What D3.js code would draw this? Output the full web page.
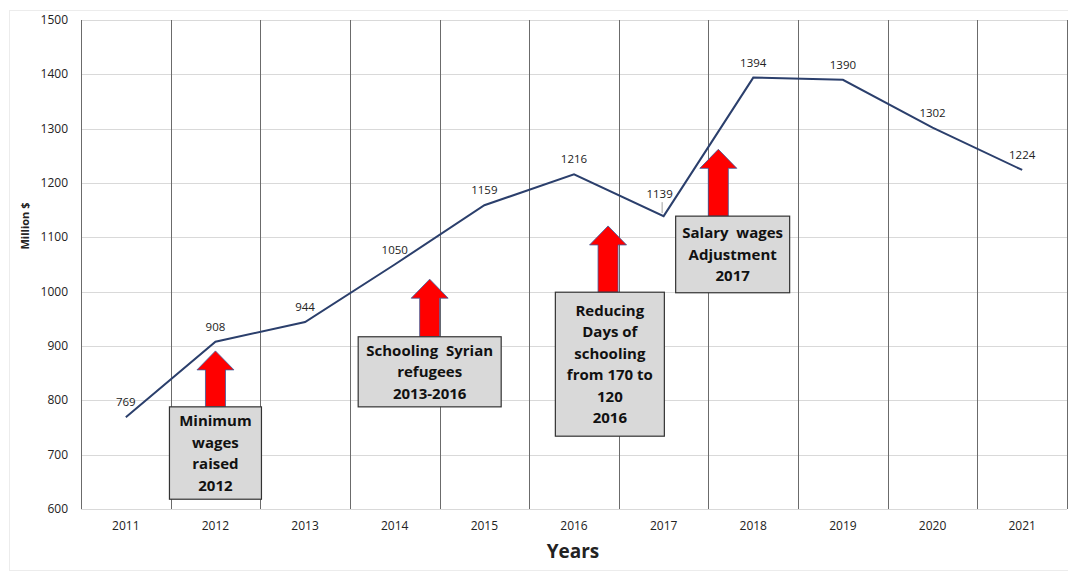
<!DOCTYPE html>
<html>
<head>
<meta charset="utf-8">
<script src="https://cdn.jsdelivr.net/npm/d3@7/dist/d3.min.js"></script>
<style>
  body { margin: 0; background: #fff; }
  svg { display: block; font-family: "Open Sans", "Liberation Sans", sans-serif; }
</style>
</head>
<body>
<svg width="1068" height="573"></svg>
<script>
// Data
// ----
var years = ['2011', '2012', '2013', '2014', '2015', '2016', '2017', '2018', '2019', '2020', '2021'];
var spending = [769, 908, 944, 1050, 1159, 1216, 1139, 1394, 1390, 1302, 1224];
var yTicks = [600, 700, 800, 900, 1000, 1100, 1200, 1300, 1400, 1500];

// annotation texts, placed by year index and value
var notes = [
  { lines: ['Minimum', 'wages', 'raised', '2012'], at: 1, arrowAt: 1, tip: 891, boxTop: 788, boxBottom: 618, w: 92 },
  { lines: ['Schooling  Syrian', 'refugees', '2013-2016'], at: 3.39, arrowAt: 3.39, tip: 1023, boxTop: 917, boxBottom: 788, w: 143 },
  { lines: ['Reducing', 'Days of', 'schooling', 'from 170 to', '120', '2016'], at: 5.4, arrowAt: 5.38, tip: 1121, boxTop: 999, boxBottom: 734, w: 109 },
  { lines: ['Salary  wages', 'Adjustment', '2017'], at: 6.77, arrowAt: 6.61, tip: 1262, boxTop: 1139, boxBottom: 998, w: 114 }
];

var svg = d3.select('svg');
var plotLeft = 81, plotRight = 1067, plotTop = 20, plotBottom = 509;

var x = d3.scaleBand().domain(years).range([plotLeft, plotRight]).padding(0);
var y = d3.scaleLinear().domain([600, 1500]).range([plotBottom, plotTop]);
var bw = x.bandwidth();
var xi = function (i) { return plotLeft + bw * (i + 0.5); };

// faint chart border
svg.append('rect')
   .attr('x', 9.5).attr('y', 10.5)
   .attr('width', 1070).attr('height', 560)
   .style('fill', 'none').style('stroke', '#ececec');

// horizontal gridlines
svg.append('g').selectAll('line')
   .data(yTicks)
   .join('line')
   .attr('x1', plotLeft).attr('x2', plotRight)
   .attr('y1', function (d) { return Math.round(y(d)) + 0.5; })
   .attr('y2', function (d) { return Math.round(y(d)) + 0.5; })
   .style('stroke', '#d9d9d9');

// vertical category separators
var seps = years.map(function (d) { return x(d); }).concat([plotRight]);
svg.append('g').selectAll('line')
   .data(seps)
   .join('line')
   .attr('x1', function (d) { return Math.round(d) + 0.5; })
   .attr('x2', function (d) { return Math.round(d) + 0.5; })
   .attr('y1', plotTop).attr('y2', plotBottom)
   .style('stroke', '#6b6b6b');

// y axis labels
svg.append('g').selectAll('text')
   .data(yTicks)
   .join('text')
   .attr('x', 68)
   .attr('y', function (d) { return y(d) + 4; })
   .attr('text-anchor', 'end')
   .attr('font-size', '12px')
   .attr('fill', '#222')
   .text(function (d) { return d; });

// x axis labels
svg.append('g').selectAll('text')
   .data(years)
   .join('text')
   .attr('x', function (d) { return x(d) + bw / 2; })
   .attr('y', 530)
   .attr('text-anchor', 'middle')
   .attr('font-size', '12px')
   .attr('fill', '#222')
   .text(function (d) { return d; });

// axis titles
svg.append('text')
   .attr('x', 573).attr('y', 558)
   .attr('text-anchor', 'middle')
   .attr('font-size', '19px')
   .attr('font-weight', 'bold')
   .attr('fill', '#222')
   .text('Years');

svg.append('text')
   .attr('transform', 'translate(29,226) rotate(-90)')
   .attr('text-anchor', 'middle')
   .attr('font-size', '11px')
   .attr('font-weight', 'bold')
   .attr('fill', '#222')
   .text('Million $');

// the line
var line = d3.line()
  .x(function (d, i) { return x(years[i]) + bw / 2; })
  .y(function (d) { return y(d); });

svg.append('path')
   .datum(spending)
   .attr('d', line)
   .style('fill', 'none')
   .style('stroke', '#2b3f6c')
   .style('stroke-width', 2);

// data labels
svg.append('g').selectAll('text')
   .data(spending)
   .join('text')
   .attr('x', function (d, i) { return x(years[i]) + bw / 2 - (i === 6 ? 4 : 0); })
   .attr('y', function (d, i) { return y(d) - (i === 6 ? 18 : 11); })
   .attr('text-anchor', 'middle')
   .attr('font-size', '11.5px')
   .attr('fill', '#222')
   .text(function (d) { return d; });

// leader line for the 2017 label
svg.append('line')
   .attr('x1', x('2017') + bw / 2 - 1.5).attr('x2', x('2017') + bw / 2 - 1.5)
   .attr('y1', y(spending[6]) - 14).attr('y2', y(spending[6]) - 3)
   .style('stroke', '#888').style('stroke-width', 0.8);

// annotations: red arrows + grey boxes
var g = svg.append('g').selectAll('g')
   .data(notes)
   .join('g');

g.append('path')
 .attr('d', function (d) {
   var cx = xi(d.arrowAt), tip = y(d.tip), base = tip + 19, end = y(d.boxTop);
   return 'M' + cx + ',' + tip +
          'L' + (cx + 18.5) + ',' + base +
          'L' + (cx + 10) + ',' + base +
          'L' + (cx + 10) + ',' + end +
          'L' + (cx - 10) + ',' + end +
          'L' + (cx - 10) + ',' + base +
          'L' + (cx - 18.5) + ',' + base + 'Z';
 })
 .style('fill', '#ff0000')
 .style('stroke', '#3b5a9a')
 .style('stroke-width', 0.8);

g.append('rect')
 .attr('x', function (d) { return xi(d.at) - d.w / 2; })
 .attr('y', function (d) { return y(d.boxTop); })
 .attr('width', function (d) { return d.w; })
 .attr('height', function (d) { return y(d.boxBottom) - y(d.boxTop); })
 .style('fill', '#d9d9d9')
 .style('stroke', '#333')
 .style('stroke-width', 1.2);

g.each(function (d) {
  var h = y(d.boxBottom) - y(d.boxTop);
  var lh = 21.5;
  var y0 = y(d.boxTop) + h / 2 - (d.lines.length - 1) * lh / 2 + 5.5;
  d3.select(this).append('text')
    .attr('text-anchor', 'middle')
    .attr('font-size', '15px')
    .attr('font-weight', 'bold')
    .attr('fill', '#111')
    .selectAll('tspan')
    .data(d.lines)
    .join('tspan')
    .attr('x', xi(d.at))
    .attr('y', function (t, i) { return y0 + i * lh; })
    .style('white-space', 'pre')
    .text(function (t) { return t; });
});
</script>
</body>
</html>
